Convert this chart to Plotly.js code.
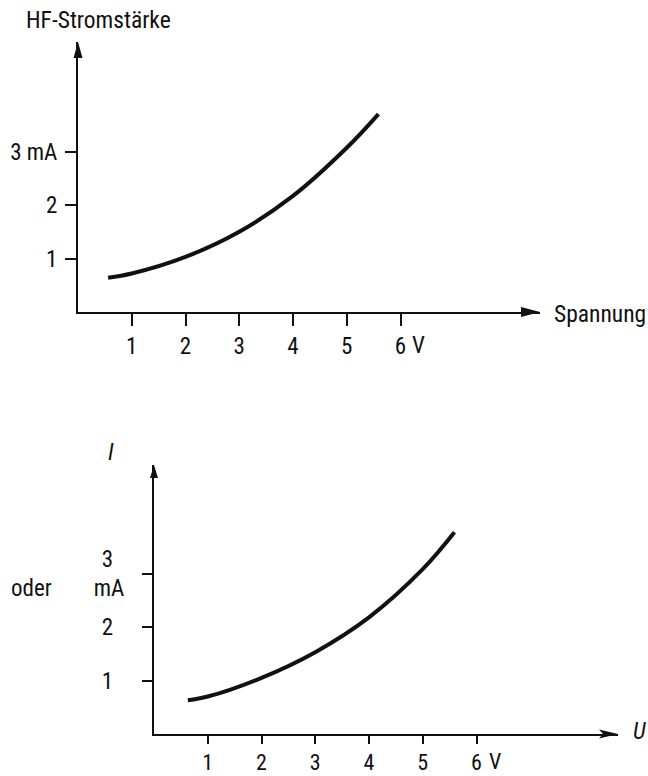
<!DOCTYPE html>
<html>
<head>
<meta charset="utf-8">
<script src="https://cdn.plot.ly/plotly-3.0.1.min.js"></script>
<style>
  html, body { margin: 0; padding: 0; background: #fff; }
  #chart { width: 648px; height: 776px; }
</style>
</head>
<body>
<div id="chart"></div>
<script>
// ---- data ----
const voltageTop = [0.56, 1, 2, 3, 4, 5, 5.59];
const currentTop = [0.64, 0.72, 1.03, 1.50, 2.17, 3.07, 3.70];

const voltageBottom = [0.63, 1, 2, 3, 4, 5, 5.59];
const currentBottom = [0.63, 0.70, 1.05, 1.53, 2.18, 3.08, 3.77];

const xTickVals = [1, 2, 3, 4, 5, 6];
const xTickText = ['1', '2', '3', '4', '5', '6'];
const yTickVals = [1, 2, 3];
const yTickTextTop = ['1', '2', '3 mA'];
const yTickTextBottom = ['1\u2007', '2\u2007', '3\u2007<br>mA'];

const titleTop = 'HF-Stromstärke';
const xLabelTop = 'Spannung';
const unitV = 'V';
const yLabelBottom = 'I';
const xLabelBottom = 'U';
const oderText = 'oder';

// ---- geometry (pixels) ----
const W = 648, H = 776;
const px = v => v / W;
const py = v => 1 - v / H;
const FONT = 'Roboto Condensed, DejaVu Sans Condensed, sans-serif';
const FS = 23;
const FS_WORD = 23.5;
const FS_BOTX = 22;

const topRangeX = [0, (540 - 78) / 53.75];
const topRangeY = [0, (312 - 42) / 53.5];
const botRangeX = [0, (618 - 154) / 53.75];
const botRangeY = [0, (734 - 465) / 53.5];

const axisCommon = {
  showgrid: false, zeroline: false, showline: true,
  linewidth: 2, linecolor: '#111', mirror: false,
  ticks: 'outside', tickwidth: 2, tickcolor: '#111',
  tickfont: {family: FONT, size: FS, color: '#111'},
  fixedrange: true
};

const traces = [
  {x: voltageTop, y: currentTop, xaxis: 'x', yaxis: 'y', mode: 'lines',
   line: {color: '#111', width: 4, shape: 'spline'}, hoverinfo: 'skip'},
  {x: voltageBottom, y: currentBottom, xaxis: 'x2', yaxis: 'y2', mode: 'lines',
   line: {color: '#111', width: 4, shape: 'spline'}, hoverinfo: 'skip'}
];

const arrowX = 'M0,0 L-19,5 L-19,-5 Z';
const arrowXNotch = 'M0,0 L-19,4.5 L-15,0 L-19,-4.5 Z';
const arrowYTop = 'M0,0 L-4.5,-16 L4.5,-16 Z';
const arrowYBot = 'M0,0 L-4,-13 L4,-13 Z';

function arrow(path, xa, ya) {
  return {type: 'path', xref: 'paper', yref: 'paper', xsizemode: 'pixel', ysizemode: 'pixel',
          xanchor: xa, yanchor: ya, path: path, fillcolor: '#111', line: {width: 0}};
}

function label(text, x, y, xanchor, size, style) {
  return {text: text, xref: 'paper', yref: 'paper', x: px(x), y: py(y),
    xanchor: xanchor, yanchor: 'middle', showarrow: false,
    font: {family: FONT, size: size, color: '#111', style: style || 'normal'}};
}

const layout = {
  width: W, height: H,
  margin: {l: 0, r: 0, t: 0, b: 0},
  paper_bgcolor: '#fff', plot_bgcolor: 'rgba(0,0,0,0)',
  showlegend: false,
  font: {family: FONT, size: FS, color: '#111'},
  xaxis: Object.assign({}, axisCommon, {
    domain: [px(78), px(540)], range: topRangeX, anchor: 'y',
    tickvals: xTickVals, ticktext: xTickText, ticklen: 12, ticklabelstandoff: 0
  }),
  yaxis: Object.assign({}, axisCommon, {
    domain: [py(312), py(42)], range: topRangeY, anchor: 'x',
    tickvals: yTickVals, ticktext: yTickTextTop, ticklen: 11, ticklabelstandoff: 3
  }),
  xaxis2: Object.assign({}, axisCommon, {
    domain: [px(154), px(618)], range: botRangeX, anchor: 'y2',
    tickvals: xTickVals, ticktext: xTickText, ticklen: 8, ticklabelstandoff: 0,
    tickfont: {family: FONT, size: FS_BOTX, color: '#111'}
  }),
  yaxis2: Object.assign({}, axisCommon, {
    domain: [py(734), py(465)], range: botRangeY, anchor: 'x2',
    tickvals: yTickVals, ticktext: yTickTextBottom, ticklen: 10, ticklabelstandoff: 13
  }),
  shapes: [
    arrow(arrowX, px(540), py(312)),
    arrow(arrowYTop, px(78), py(42)),
    arrow(arrowXNotch, px(618), py(734)),
    arrow(arrowYBot, px(154), py(465))
  ],
  annotations: [
    label(titleTop, 24, 20, 'left', FS_WORD),
    label(xLabelTop, 552, 314, 'left', FS_WORD),
    {text: unitV, xref: 'x', yref: 'y', x: 6, y: 0, xshift: 18, yshift: -33, xanchor: 'center', yanchor: 'middle',
     showarrow: false, font: {family: FONT, size: FS, color: '#111'}},
    {text: unitV, xref: 'x2', yref: 'y2', x: 6, y: 0, xshift: 18, yshift: -27, xanchor: 'center', yanchor: 'middle',
     showarrow: false, font: {family: FONT, size: FS_BOTX, color: '#111'}},
    label(yLabelBottom, 111, 452, 'center', FS, 'italic'),
    label(xLabelBottom, 631, 731, 'left', FS, 'italic'),
    label(oderText, 9, 588, 'left', FS)
  ]
};

Plotly.newPlot('chart', traces, layout, {staticPlot: true, displayModeBar: false});
</script>
</body>
</html>
